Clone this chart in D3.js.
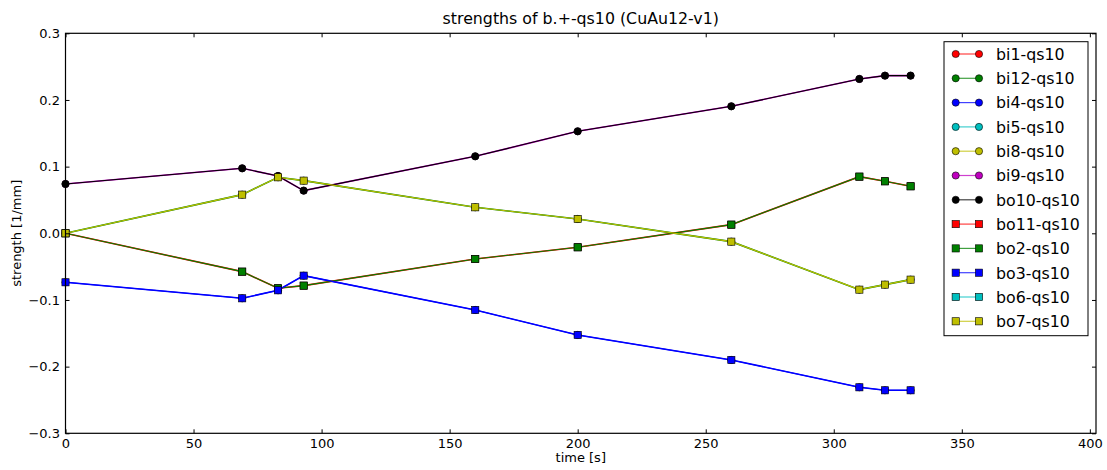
<!DOCTYPE html>
<html>
<head>
<meta charset="utf-8">
<script src="https://cdn.jsdelivr.net/npm/d3@7"></script>
<style>
  html, body { margin: 0; padding: 0; background: #fff; }
  svg { display: block; font-family: "DejaVu Sans", sans-serif; }
</style>
</head>
<body>
<svg id="chart" width="1107" height="470"></svg>
<script>
// ---- data ----
const times = [0, 69, 83, 93, 160, 200, 260, 310, 320, 330];
const bo10 = [0.074, 0.0975, 0.086, 0.064, 0.1155, 0.153, 0.1905, 0.2315, 0.2365, 0.2365];
const bo2  = [0.0, -0.0575, -0.0825, -0.0785, -0.0385, -0.021, 0.013, 0.085, 0.078, 0.0705];
const bo3  = [-0.0735, -0.0975, -0.0855, -0.0635, -0.115, -0.1525, -0.19, -0.231, -0.2355, -0.2355];
const bo7  = [0.0, 0.058, 0.084, 0.079, 0.039, 0.0215, -0.0125, -0.0845, -0.077, -0.0695];
const empty = [];
const seriesNames  = ["bi1-qs10","bi12-qs10","bi4-qs10","bi5-qs10","bi8-qs10","bi9-qs10",
                      "bo10-qs10","bo11-qs10","bo2-qs10","bo3-qs10","bo6-qs10","bo7-qs10"];
const seriesValues = [empty, bo7, bo3, empty, empty, bo10,
                      bo10, bo2, bo2, bo3, empty, bo7];
const seriesColors = ["#ff0000","#008000","#0000ff","#00bfbf","#bfbf00","#bf00bf",
                      "#000000","#ff0000","#008000","#0000ff","#00bfbf","#bfbf00"];
const seriesMarkers = ["circle","circle","circle","circle","circle","circle",
                       "circle","square","square","square","square","square"];
const xTicks = [0, 50, 100, 150, 200, 250, 300, 350, 400];
const yTicks = [-0.3, -0.2, -0.1, 0.0, 0.1, 0.2, 0.3];
const titleText = "strengths of b.+-qs10 (CuAu12-v1)";
const xLabel = "time [s]";
const yLabel = "strength [1/mm]";

// ---- layout ----
const L = 65.5, R = 1096, T = 33.3, B = 433.3;
const svg = d3.select("#chart");
const x = d3.scaleLinear().domain([0, 402.4]).range([L, R]);
const y = d3.scaleLinear().domain([-0.3, 0.3]).range([B, T]);
const fmtY = v => d3.format(".1f")(v).replace("-", "\u2212");

// series (lines that end up underneath another series show as a faint coloured fringe)
const lineGen = d3.line().x(d => x(d.t)).y(d => y(d.v));
const g = svg.append("g");
function drawMarker(sel, type, color, cx, cy) {
  if (type === "circle") {
    sel.append("circle").attr("cx", cx).attr("cy", cy).attr("r", 3.6)
      .attr("fill", color).attr("stroke", "#000").attr("stroke-width", 0.6);
  } else {
    sel.append("rect").attr("x", cx - 3.6).attr("y", cy - 3.6).attr("width", 7.2).attr("height", 7.2)
      .attr("fill", color).attr("stroke", "#000").attr("stroke-width", 0.6);
  }
}
seriesNames.forEach((name, k) => {
  const vals = seriesValues[k];
  if (!vals.length) return;
  const pts = vals.map((v, i) => ({t: times[i], v}));
  const covered = seriesValues.indexOf(vals) === k && seriesValues.lastIndexOf(vals) !== k;
  const sg = g.append("g");
  sg.append("path").datum(pts).attr("d", lineGen)
    .attr("fill", "none").attr("stroke", seriesColors[k])
    .attr("stroke-width", covered ? 1.6 : 1.1);
  pts.forEach(p => drawMarker(sg, seriesMarkers[k], seriesColors[k], x(p.t), y(p.v)));
});

// axes (ticks inward on all sides)
const axB = d3.axisBottom(x).tickValues(xTicks).tickSize(-4).tickPadding(5).tickFormat(d3.format("d"));
const axT = d3.axisTop(x).tickValues(xTicks).tickSize(-4).tickFormat("");
const axLft = d3.axisLeft(y).tickValues(yTicks).tickSize(-4).tickPadding(5.5).tickFormat(fmtY);
const axRgt = d3.axisRight(y).tickValues(yTicks).tickSize(-4).tickFormat("");
function styleAxis(sel) {
  sel.select(".domain").remove();
  sel.selectAll(".tick line").attr("stroke", "#000").attr("stroke-width", 1);
  sel.selectAll(".tick text").attr("fill", "#000").style("font-size", "13px")
    .style("font-family", "DejaVu Sans, sans-serif");
}
svg.append("g").attr("transform", `translate(0,${B})`).call(axB).call(styleAxis);
svg.append("g").attr("transform", `translate(0,${T})`).call(axT).call(styleAxis);
svg.append("g").attr("transform", `translate(${L},0)`).call(axLft).call(styleAxis);
svg.append("g").attr("transform", `translate(${R},0)`).call(axRgt).call(styleAxis);

// frame
svg.append("rect").attr("x", L).attr("y", T).attr("width", R - L).attr("height", B - T)
  .attr("fill", "none").attr("stroke", "#000").attr("stroke-width", 1.2);

// title and labels
svg.append("text").attr("x", (L + R) / 2).attr("y", 24).attr("text-anchor", "middle")
  .style("font-size", "15.8px").text(titleText);
svg.append("text").attr("x", (L + R) / 2).attr("y", 462).attr("text-anchor", "middle")
  .style("font-size", "13px").text(xLabel);
svg.append("text").attr("transform", `translate(21,${(T + B) / 2}) rotate(-90)`)
  .attr("text-anchor", "middle").style("font-size", "13px").text(yLabel);

// legend
const lgX = 944, lgY = 41.7, lgW = 144, lgH = 294;
const lg = svg.append("g");
lg.append("rect").attr("x", lgX).attr("y", lgY).attr("width", lgW).attr("height", lgH)
  .attr("fill", "#fff").attr("stroke", "#000").attr("stroke-width", 1);
seriesNames.forEach((name, k) => {
  const cy = 54 + k * 24.3;
  lg.append("line").attr("x1", 955.7).attr("x2", 979).attr("y1", cy).attr("y2", cy)
    .attr("stroke", seriesColors[k]).attr("stroke-width", 1.2).attr("stroke-opacity", 0.75);
  drawMarker(lg, seriesMarkers[k], seriesColors[k], 955.7, cy);
  drawMarker(lg, seriesMarkers[k], seriesColors[k], 979, cy);
  lg.append("text").attr("x", 996).attr("y", cy + 5.8).style("font-size", "15.8px").text(name);
});
</script>
</body>
</html>
